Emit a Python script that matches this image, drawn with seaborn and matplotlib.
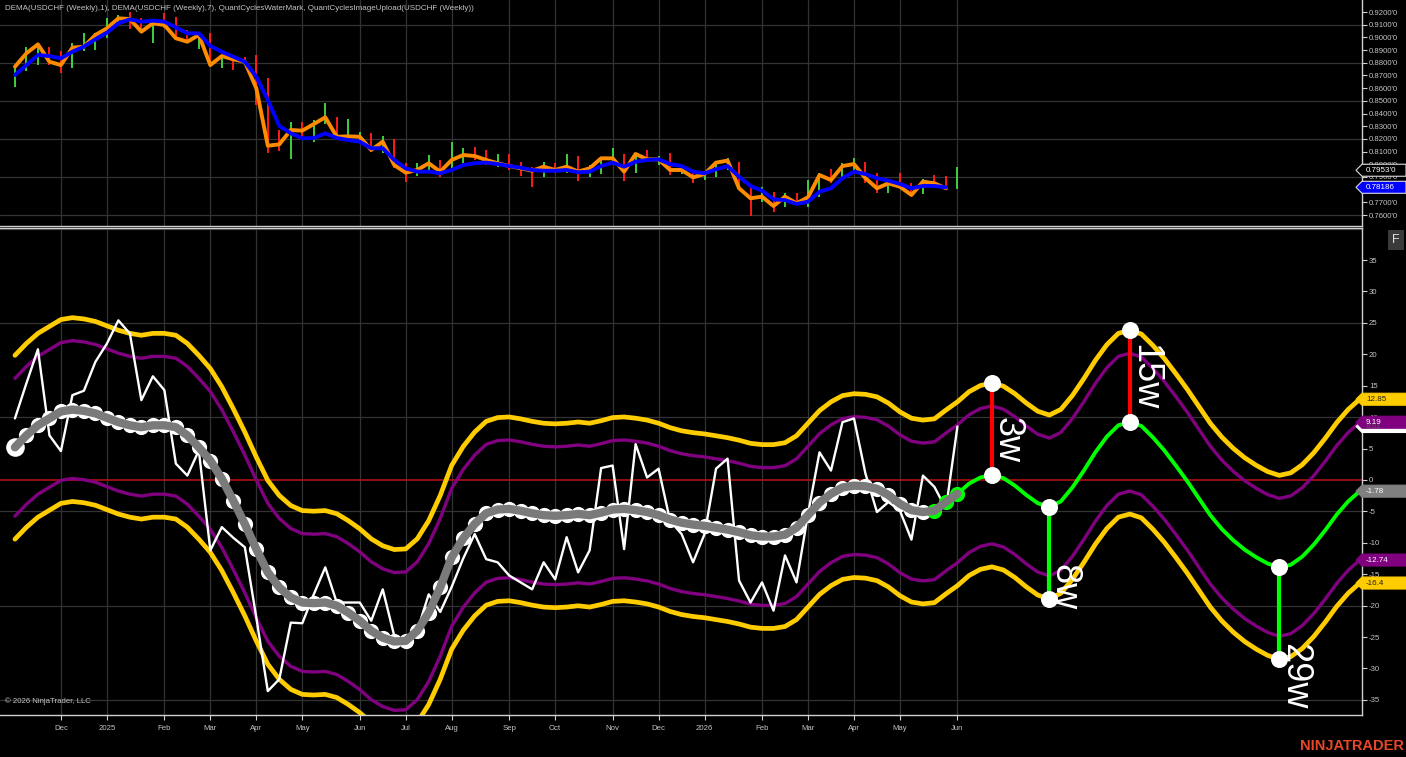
import numpy as np
import pandas as pd
import matplotlib.pyplot as plt
import seaborn as sns
from matplotlib.patches import Polygon

# weekly USDCHF bars (Friday dated)
bar_dates = pd.date_range('2024-11-08', periods=83, freq='W-FRI')

price_close = [
    0.8769, 0.8875, 0.8945, 0.8808, 0.8782, 0.8919, 0.8927, 0.9019, 0.9071, 0.9150,
    0.9145, 0.9045, 0.9111, 0.9098, 0.8993, 0.8966, 0.9019, 0.8782, 0.8853, 0.8827,
    0.8808, 0.8599, 0.8146, 0.8157, 0.8270, 0.8265, 0.8317, 0.8370, 0.8217, 0.8220,
    0.8217, 0.8113, 0.8178, 0.7994, 0.7934, 0.7955, 0.8008, 0.7942, 0.8034, 0.8073,
    0.8065, 0.8034, 0.8008, 0.7986, 0.7968, 0.7949, 0.7981, 0.7955, 0.7981, 0.7942,
    0.7968, 0.8047, 0.8047, 0.7942, 0.8081, 0.8039, 0.8039, 0.7955, 0.7955, 0.7897,
    0.7923, 0.8013, 0.8029, 0.7811, 0.7732, 0.7745, 0.7671, 0.7745, 0.7692, 0.7740,
    0.7915, 0.7876, 0.7986, 0.8002, 0.7890, 0.7811, 0.7850, 0.7823, 0.7758, 0.7863,
    0.7850, 0.7811, 0.7953]
price_high = [
    0.8782, 0.8927, 0.8948, 0.8927, 0.8895, 0.8953, 0.9032, 0.9035, 0.9150, 0.9176,
    0.9202, 0.9150, 0.9124, 0.9190, 0.9163, 0.9058, 0.9045, 0.9032, 0.8861, 0.8861,
    0.8848, 0.8861, 0.8677, 0.8270, 0.8336, 0.8336, 0.8349, 0.8480, 0.8370, 0.8354,
    0.8257, 0.8244, 0.8223, 0.8197, 0.8008, 0.8008, 0.8073, 0.8034, 0.8178, 0.8126,
    0.8139, 0.8113, 0.8081, 0.8081, 0.8020, 0.7981, 0.8016, 0.8008, 0.8081, 0.8065,
    0.7994, 0.8060, 0.8126, 0.8081, 0.8073, 0.8113, 0.8065, 0.8089, 0.7994, 0.7955,
    0.7942, 0.8008, 0.8047, 0.8020, 0.7811, 0.7823, 0.7784, 0.7776, 0.7776, 0.7876,
    0.7929, 0.7960, 0.8008, 0.8047, 0.8020, 0.7934, 0.7876, 0.7929, 0.7855, 0.7882,
    0.7915, 0.7907, 0.7976]
price_low = [
    0.8611, 0.8738, 0.8780, 0.8782, 0.8722, 0.8756, 0.8895, 0.8898, 0.8993, 0.9098,
    0.9064, 0.9032, 0.8958, 0.9071, 0.8993, 0.8953, 0.8906, 0.8769, 0.8756, 0.8746,
    0.8782, 0.8467, 0.8091, 0.8107, 0.8039, 0.8217, 0.8178, 0.8317, 0.8213, 0.8213,
    0.8165, 0.8100, 0.8087, 0.7968, 0.7863, 0.7908, 0.7955, 0.7902, 0.7968, 0.8008,
    0.8034, 0.7994, 0.7981, 0.7955, 0.7908, 0.7823, 0.7902, 0.7929, 0.7934, 0.7871,
    0.7902, 0.7923, 0.8034, 0.7871, 0.7929, 0.8034, 0.7994, 0.7915, 0.7923, 0.7855,
    0.7876, 0.7902, 0.7955, 0.7797, 0.7592, 0.7705, 0.7626, 0.7661, 0.7679, 0.7666,
    0.7745, 0.7850, 0.7902, 0.7942, 0.7850, 0.7771, 0.7771, 0.7823, 0.7758, 0.7766,
    0.7823, 0.7797, 0.7803]
# G = up bar, R = down bar
bar_dir = ("GGGRRGGGGG" "RRGRRRGRGR" "RRRRGRGGRG" "GRGRRGGRGG" "RRGRRRGRGR"
           "GGGRGRGRGR" "GGGRRGRGRG" "GRGGRRGRRG" "RRG")
dema7 = [
    0.8704, 0.8782, 0.8861, 0.8853, 0.8835, 0.8887, 0.8927, 0.8985, 0.9037, 0.9111,
    0.9142, 0.9124, 0.9132, 0.9124, 0.9079, 0.9032, 0.9032, 0.8932, 0.8887, 0.8848,
    0.8808, 0.8690, 0.8507, 0.8302, 0.8244, 0.8205, 0.8207, 0.8244, 0.8207, 0.8191,
    0.8178, 0.8126, 0.8126, 0.8034, 0.7968, 0.7942, 0.7942, 0.7929, 0.7955, 0.7994,
    0.8008, 0.8013, 0.8002, 0.7986, 0.7973, 0.7955, 0.7949, 0.7949, 0.7955, 0.7937,
    0.7942, 0.7986, 0.8013, 0.7981, 0.8020, 0.8034, 0.8039, 0.8002, 0.7986, 0.7942,
    0.7929, 0.7960, 0.7986, 0.7902, 0.7829, 0.7792, 0.7724, 0.7718, 0.7687, 0.7705,
    0.7784, 0.7811, 0.7890, 0.7942, 0.7923, 0.7890, 0.7871, 0.7845, 0.7811, 0.7829,
    0.7829, 0.78186]

# cycle oscillator
osc_raw = [
    9.8, 15.4, 20.8, 7.1, 4.6, 13.5, 14.2, 18.8, 21.7, 25.4,
    23.3, 12.7, 16.5, 14.3, 2.6, 0.7, 4.7, -11.2, -7.5, -9.2,
    -10.7, -21.9, -33.6, -31.7, -22.7, -22.8, -18.2, -13.9, -19.5, -19.5,
    -19.5, -22.4, -17.4, -24.8, -25.6, -24.0, -18.2, -21.0, -17.0, -12.5,
    -8.6, -12.6, -13.1, -15.2, -16.3, -17.4, -13.1, -15.8, -9.1, -14.7,
    -11.2, 1.9, 2.3, -11.0, 5.7, 0.4, 1.8, -6.5, -8.6, -13.1,
    -8.6, 1.8, 3.4, -16.0, -19.5, -16.3, -20.8, -12.0, -16.3, -5.4,
    4.4, 1.5, 9.2, 9.8, 1.0, -5.1, -3.5, -4.9, -9.5, 0.7,
    -1.1, -4.6, 8.51]
osc_smooth = [
    5.2, 7.1, 8.7, 9.8, 10.9, 11.2, 11.0, 10.6, 9.9, 9.2,
    8.7, 8.4, 8.7, 8.7, 8.4, 7.1, 5.2, 3.1, 0.2, -3.3,
    -7.0, -11.0, -14.7, -17.1, -18.7, -19.5, -19.6, -19.5, -20.0, -21.1,
    -22.4, -24.0, -25.1, -25.7, -25.6, -24.0, -21.1, -17.1, -12.3, -9.3,
    -7.0, -5.3, -4.7, -4.6, -4.9, -5.3, -5.6, -5.7, -5.6, -5.4,
    -5.6, -5.2, -4.7, -4.6, -4.8, -5.1, -5.6, -6.3, -6.8, -7.1,
    -7.3, -7.6, -7.9, -8.3, -8.8, -9.0, -9.0, -8.7, -7.6, -5.6,
    -3.6, -2.2, -1.2, -0.9, -1.0, -1.4, -2.4, -3.8, -4.8, -5.1,
    -4.9, -3.5, -2.2]
proj_start = 80
osc_proj = [
    -4.9, -3.5, -2.2, -0.6, 0.4, 0.8, 0.3, -0.9, -2.4, -3.7,
    -4.3, -3.4, -1.2, 1.5, 4.4, 6.9, 8.7, 9.2, 8.6, 6.8,
    4.7, 2.3, -0.2, -2.9, -5.6, -7.8, -9.6, -11.1, -12.3, -13.3,
    -13.9, -13.5, -12.2, -10.3, -8.0, -5.5, -3.4, -1.78]
# band offsets read from the right-hand value flags
band_outer_up, band_inner_up = 14.63, 10.97
band_inner_lo, band_outer_lo = -10.96, -14.62

cycle_bar = [85, 90, 97, 110]
cycle_name = ['3w', '8w', '15w', '29w']
cycle_side = ['top', 'bottom', 'top', 'bottom']
cycle_label_y = [6.4, -17.0, 16.3, -31.2]

# colours
BG = 'black'
GRID = '#333333'
AXIS = '#d0d0d0'
TXT = '#c4c4c4'
YELLOW = '#ffcc00'
PURPLE = '#800080'
LIME = '#00ff00'

sns.set_theme(style='dark', rc={
    'figure.facecolor': BG, 'axes.facecolor': BG, 'axes.edgecolor': AXIS,
    'xtick.color': AXIS, 'ytick.color': AXIS,
    'xtick.labelcolor': TXT, 'ytick.labelcolor': TXT,
})
plt.rcParams['font.family'] = ['Liberation Sans', 'DejaVu Sans']

fig = plt.figure(figsize=(14.06, 7.57), dpi=100)
W, H = 1406, 757
ax_p = fig.add_axes([0, 1 - 226 / H, 1362 / W, 226 / H])
ax_c = fig.add_axes([0, 1 - 715 / H, 1362 / W, 487 / H], sharex=ax_p)

n_bars = len(price_close)
bars = np.arange(n_bars)

# month ticks on the first bar of each month
tick_pos, tick_lab = [], []
for i in range(1, n_bars):
    if bar_dates[i].month != bar_dates[i - 1].month:
        tick_pos.append(i)
        tick_lab.append(str(bar_dates[i].year) if bar_dates[i].month == 1
                        else bar_dates[i].strftime('%b'))

# ---- price panel ----
for i in bars:
    col = '#3fd03f' if bar_dir[i] == 'G' else '#ff1a1a'
    ax_p.vlines(i, price_low[i], price_high[i], color=col, lw=1.4, zorder=3)
sns.lineplot(x=bars[:len(dema7)], y=price_close[:len(dema7)], ax=ax_p,
             color='#ff8c00', lw=2.8, estimator=None, zorder=4)
sns.lineplot(x=bars[:len(dema7)], y=dema7, ax=ax_p,
             color='#0000ff', lw=2.8, estimator=None, zorder=5)

ax_p.set_ylim(0.75136, 0.92946)
ax_p.yaxis.tick_right()
pt = np.round(np.arange(0.76, 0.9201, 0.01), 2)
ax_p.set_yticks(pt)
# the 0.7800 label sits fully under the DEMA flag in the original
ax_p.set_yticklabels(['' if v == 0.78 else f"{v:.4f}'0" for v in pt])
for gv in np.arange(0.76, 0.92, 0.03):
    ax_p.axhline(gv, color=GRID, lw=0.9, zorder=0)

# ---- cycle panel ----
n_total = proj_start + len(osc_proj)
centre = np.array(osc_smooth[:proj_start] + osc_proj)
allbars = np.arange(n_total)
for off, col, lw in [(band_outer_up, YELLOW, 3.4), (band_outer_lo, YELLOW, 3.4),
                     (band_inner_up, PURPLE, 2.4), (band_inner_lo, PURPLE, 2.4)]:
    sns.lineplot(x=allbars, y=centre + off, ax=ax_c, color=col, lw=lw,
                 estimator=None, zorder=2)

ax_c.axhline(0, color='#b01010', lw=1.2, zorder=1.5)
sns.lineplot(x=bars, y=osc_raw, ax=ax_c, color='white', lw=1.7,
             estimator=None, zorder=3)

proj_bars = np.arange(proj_start, n_total)
sns.lineplot(x=proj_bars, y=osc_proj, ax=ax_c, color=LIME, lw=2.8,
             estimator=None, zorder=4)
sns.scatterplot(x=bars[:proj_start], y=osc_smooth[:proj_start], ax=ax_c,
                s=120, color='white', linewidth=0, zorder=5)
sns.scatterplot(x=bars[:1], y=osc_smooth[:1], ax=ax_c,
                s=180, color='white', linewidth=0, zorder=5)
sns.scatterplot(x=bars[proj_start:], y=osc_smooth[proj_start:], ax=ax_c,
                s=120, color=LIME, linewidth=0, zorder=5)
sns.lineplot(x=bars, y=osc_smooth, ax=ax_c, color='#7a7a7a', lw=6,
             estimator=None, zorder=6)

# cycle markers
for b, name, side, ly in zip(cycle_bar, cycle_name, cycle_side, cycle_label_y):
    mid = osc_proj[b - proj_start]
    if side == 'top':
        end, col = mid + band_outer_up, '#ff0000'
    else:
        end, col = mid + band_outer_lo, LIME
    ax_c.vlines(b, min(mid, end), max(mid, end), color=col, lw=3, zorder=7)
    sns.scatterplot(x=[b, b], y=[mid, end], ax=ax_c, s=150, color='white',
                    linewidth=0, zorder=8)
    ax_c.text(b + 1.3, ly, name, rotation=270, ha='center', va='center',
              fontsize=26, color='white', zorder=9)

ax_c.set_ylim(-37.4, 40.1)
ax_c.yaxis.tick_right()
ct = np.arange(-35, 36, 5)
ax_c.set_yticks(ct)
ax_c.set_yticklabels([str(v) for v in ct])
for gv in np.arange(-35, 41, 15):
    if gv != 0:
        ax_c.axhline(gv, color=GRID, lw=0.9, zorder=0)

# ---- shared x axis ----
ax_c.set_xlim(-1.3, 117.2)
ax_c.set_xticks(tick_pos)
ax_c.set_xticklabels(tick_lab)
for ax in (ax_p, ax_c):
    ax.grid(False)
    for xv in tick_pos:
        ax.axvline(xv, color=GRID, lw=0.9, zorder=0)
    ax.set_xlabel('')
    ax.set_ylabel('')
    ax.spines['left'].set_visible(False)
    for s in ('right', 'bottom', 'top'):
        ax.spines[s].set_color(AXIS)
        ax.spines[s].set_linewidth(1.0)
    ax.tick_params(axis='y', which='major', direction='out', length=3.5,
                   width=0.8, pad=1.5, labelsize=5.6, right=True, left=False)
ax_p.spines['top'].set_visible(False)
ax_p.tick_params(axis='x', length=0, labelbottom=False)
ax_c.tick_params(axis='x', direction='out', length=3.5, width=0.8, pad=3.8,
                 labelsize=5.6, bottom=True)


def trim(v):
    return f"{v:.2f}".rstrip('0').rstrip('.')


def draw_flag(ax, y, text, face, fg, px_unit, edge=None):
    tr = ax.get_yaxis_transform()
    hh = 6.0 / px_unit
    x0, tip, x1 = 1.0, 1.0 - 6 / 1362, 1.0 + 44 / 1362
    pts = [(tip, y), (x0, y + hh), (x1, y + hh), (x1, y - hh), (x0, y - hh)]
    ax.add_patch(Polygon(pts, closed=True, transform=tr, facecolor=face,
                         edgecolor=edge or face, lw=0.8, clip_on=False, zorder=20))
    ax.text(x0 + 4 / 1362, y, text, transform=tr, color=fg, fontsize=5.8,
            va='center', ha='left', zorder=21, clip_on=False)


draw_flag(ax_p, price_close[-1], f"{price_close[-1]:.4f}'0", 'black', 'white', 1269, edge='#dddddd')
draw_flag(ax_p, dema7[-1], f"{dema7[-1]:.5f}", '#0000ff', 'white', 1269, edge='#dddddd')

last_c = osc_proj[-1]
draw_flag(ax_c, last_c + band_outer_up, trim(last_c + band_outer_up), YELLOW, '#222222', 6.286)
draw_flag(ax_c, osc_raw[-1], trim(osc_raw[-1]), 'white', '#555555', 6.286)
draw_flag(ax_c, last_c + band_inner_up, trim(last_c + band_inner_up), PURPLE, 'white', 6.286)
draw_flag(ax_c, last_c, trim(last_c), '#808080', 'white', 6.286)
draw_flag(ax_c, last_c + band_inner_lo, trim(last_c + band_inner_lo), PURPLE, 'white', 6.286)
draw_flag(ax_c, last_c + band_outer_lo, trim(last_c + band_outer_lo), YELLOW, '#222222', 6.286)

# ---- texts ----
fig.text(5 / W, 1 - 9 / H,
         'DEMA(USDCHF (Weekly),1), DEMA(USDCHF (Weekly),7), QuantCyclesWaterMark, '
         'QuantCyclesImageUpload(USDCHF (Weekly))',
         fontsize=5.8, color=TXT, va='center', ha='left')
fig.text(5 / W, 1 - 701 / H, '© 2026 NinjaTrader, LLC', fontsize=5.6,
         color=TXT, va='center', ha='left')
fig.text(1396 / W, 1 - 240 / H, 'F', fontsize=9, color='#dddddd', ha='center',
         va='center', bbox=dict(facecolor='#3a3a3a', edgecolor='none',
                                boxstyle='square,pad=0.35'))
fig.text(1404 / W, 1 - 746 / H, 'NINJATRADER', fontsize=10.5, weight='bold',
         color='#e8472a', ha='right', va='center')

fig.savefig('out.png', dpi=100, facecolor=BG)
